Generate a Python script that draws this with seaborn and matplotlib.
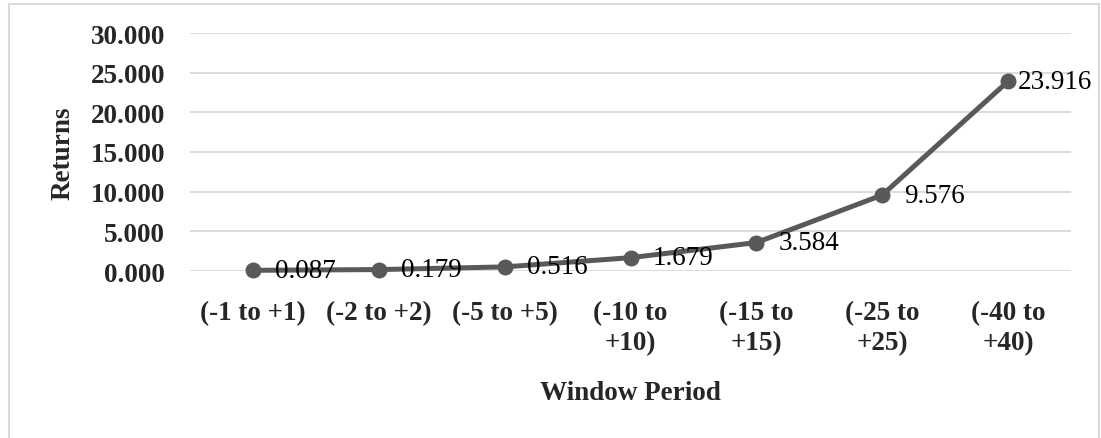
import matplotlib
matplotlib.use("Agg")
import matplotlib.pyplot as plt
from matplotlib.patches import Rectangle
import seaborn as sns
import pandas as pd

# Event-window cumulative returns
windows = ["(-1 to +1)", "(-2 to +2)", "(-5 to +5)", "(-10 to\n+10)",
           "(-15 to\n+15)", "(-25 to\n+25)", "(-40 to\n+40)"]
returns = [0.087, 0.179, 0.516, 1.679, 3.584, 9.576, 23.916]
y_ticks = [0, 5, 10, 15, 20, 25, 30]

df = pd.DataFrame({"window": windows, "returns": returns})

sns.set_theme(style="white")
plt.rcParams["font.family"] = ["Liberation Serif", "DejaVu Serif"]

W, H, DPI = 1101, 439, 100
FS = 19.5
fig = plt.figure(figsize=(W / DPI, H / DPI), dpi=DPI)
ax = fig.add_axes([190 / W, 1 - 272 / H, (1071 - 190) / W, (272 - 34) / H])

line_color = "#595959"
sns.lineplot(data=df, x="window", y="returns", ax=ax, sort=False,
             color=line_color, linewidth=3.6, marker="o", markersize=11.5,
             markeredgewidth=0, zorder=3, clip_on=False)

ax.set_xlim(-0.5, len(windows) - 0.5)
ax.set_ylim(0, 30)
ax.set_yticks(y_ticks)
ax.set_yticklabels([f"{v:.3f}" for v in y_ticks])
ax.yaxis.grid(True, color="#d9d9d9", linewidth=1.3)
ax.xaxis.grid(False)
for s in ax.spines.values():
    s.set_visible(False)

ax.tick_params(axis="y", length=0, pad=18, labelsize=FS)
ax.tick_params(axis="x", length=0, pad=21, labelsize=FS)
for lbl in ax.get_xticklabels() + ax.get_yticklabels():
    lbl.set_fontweight("bold")
ax.set_xticks(range(len(windows)))
ax.set_xticklabels(windows, fontweight="bold", fontsize=FS,
                   linespacing=1.25, ha="center")

ax.set_xlabel("Window Period", fontsize=FS, fontweight="bold", labelpad=18)
ax.set_ylabel("Returns", fontsize=FS, fontweight="bold", labelpad=11)

# value labels to the right of each point
offsets = [16, 16, 16, 16, 16, 16, 7]
for i, (v, off) in enumerate(zip(returns, offsets)):
    ax.annotate(f"{v:.3f}", (i, v), xytext=(off, 0), textcoords="offset points",
                ha="left", va="center", fontsize=FS, color="black", zorder=4)

# chart border (open at the bottom edge)
fig.patches.append(Rectangle((9 / W, -0.05), (1099 - 9) / W, 1.05 - 5 / H,
                             transform=fig.transFigure, fill=False,
                             edgecolor="#d9d9d9", linewidth=1.5))

fig.savefig("out.png", dpi=DPI)
